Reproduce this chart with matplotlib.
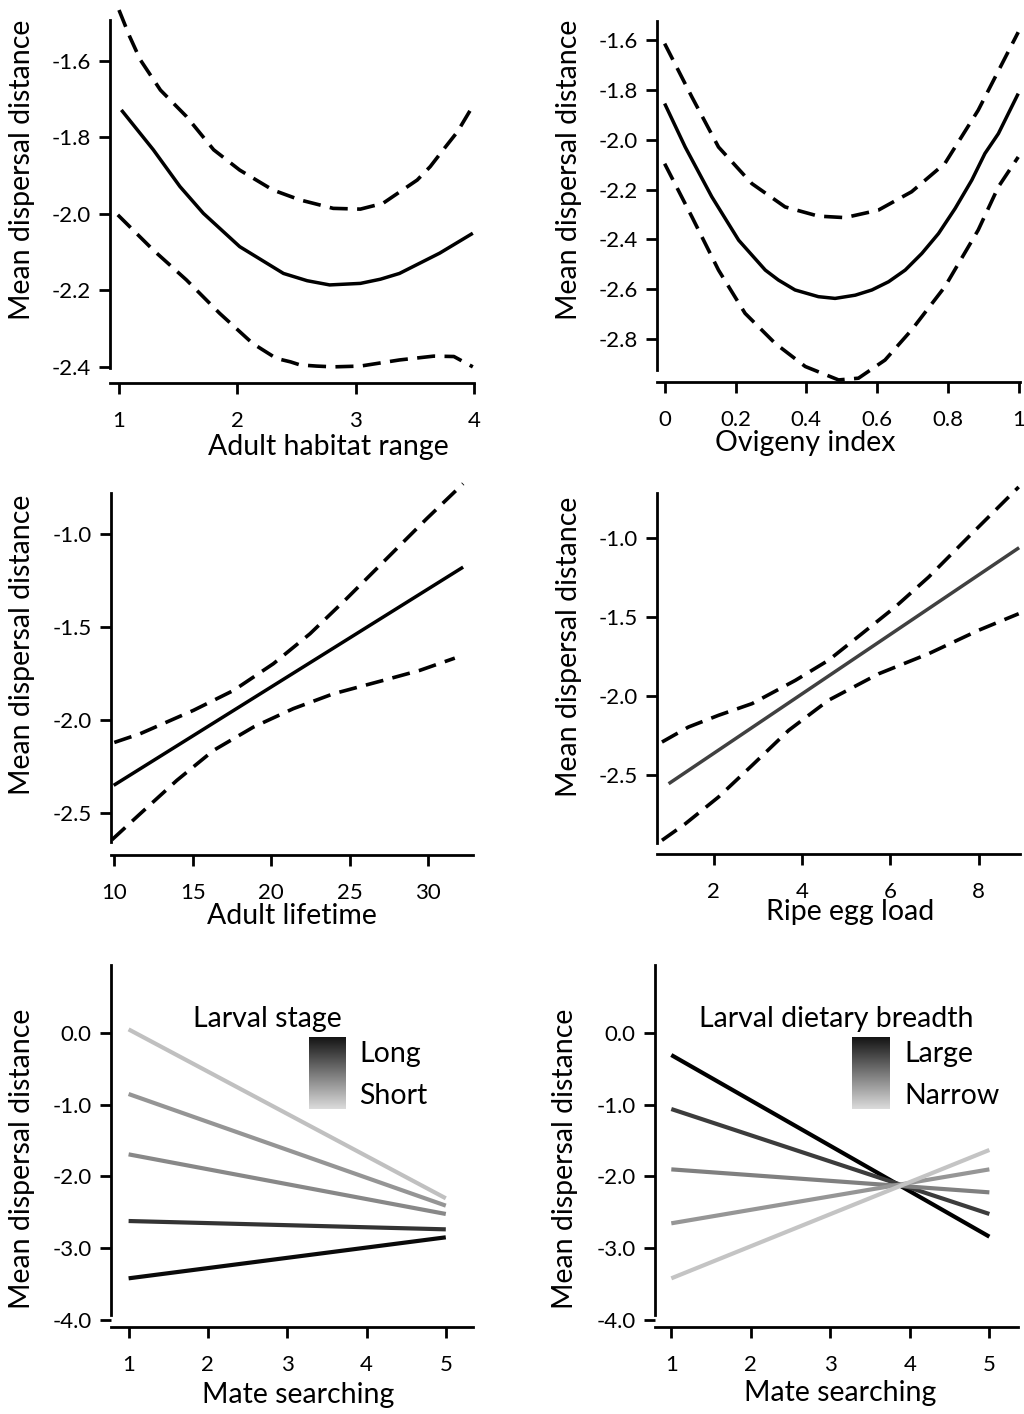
import numpy as np
import matplotlib
matplotlib.use("Agg")
import matplotlib.pyplot as plt

plt.rcParams['font.family'] = ['Lato', 'DejaVu Sans']

W, H = 1024, 1414
DPI = 100
LABEL_FS = 20.5
TICK_FS = 16

# ---- data ----
# panel 1: adult habitat range
hab_fit_x = [1.02, 1.29, 1.515, 1.713, 2.02, 2.39, 2.59, 2.78, 3.04, 3.21, 3.37, 3.71, 3.99]
hab_fit_y = [-1.729, -1.833, -1.929, -1.999, -2.086, -2.156, -2.175, -2.186, -2.182, -2.171, -2.156, -2.103, -2.051]
hab_up_x = [1.0, 1.09, 1.18, 1.35, 1.57, 1.80, 2.02, 2.30, 2.53, 2.81, 3.04, 3.23, 3.52, 3.63, 3.74, 3.86, 3.97]
hab_up_y = [-1.468, -1.537, -1.598, -1.677, -1.746, -1.833, -1.886, -1.938, -1.964, -1.986, -1.988, -1.973,
            -1.912, -1.877, -1.833, -1.786, -1.729]
hab_lo_x = [0.99, 1.29, 1.57, 1.85, 2.13, 2.33, 2.45, 2.53, 2.67, 2.81, 3.04, 3.37, 3.66, 3.83, 3.99]
hab_lo_y = [-2.003, -2.095, -2.173, -2.260, -2.339, -2.378, -2.387, -2.395, -2.398, -2.400, -2.398, -2.382,
            -2.372, -2.373, -2.400]

# panel 2: ovigeny index
ovi_fit_x = [0.0, 0.058, 0.133, 0.209, 0.284, 0.321, 0.368, 0.434, 0.481, 0.538, 0.585, 0.632, 0.679,
             0.726, 0.773, 0.820, 0.867, 0.904, 0.942, 0.998]
ovi_fit_y = [-1.854, -2.029, -2.229, -2.404, -2.524, -2.564, -2.604, -2.631, -2.638, -2.625, -2.604, -2.571,
             -2.524, -2.457, -2.377, -2.276, -2.162, -2.055, -1.975, -1.814]
ovi_up_x = [0.0, 0.077, 0.152, 0.246, 0.340, 0.434, 0.509, 0.603, 0.697, 0.791, 0.885, 0.998]
ovi_up_y = [-1.613, -1.828, -2.029, -2.176, -2.270, -2.307, -2.313, -2.283, -2.209, -2.095, -1.881, -1.567]
ovi_lo_x = [0.0, 0.077, 0.152, 0.227, 0.312, 0.397, 0.491, 0.547, 0.622, 0.697, 0.791, 0.885, 0.942, 0.998]
ovi_lo_y = [-2.096, -2.310, -2.524, -2.698, -2.819, -2.912, -2.966, -2.959, -2.886, -2.765, -2.591, -2.363,
            -2.189, -2.069]

# panel 3: adult lifetime
life_fit_x = [9.96, 32.23]
life_fit_y = [-2.351, -1.176]
life_up_x = [10.0, 11.65, 13.35, 15.05, 17.6, 20.14, 22.47, 24.8, 27.35, 29.9, 32.23]
life_up_y = [-2.12, -2.073, -2.010, -1.947, -1.840, -1.696, -1.535, -1.346, -1.131, -0.916, -0.727]
life_lo_x = [9.85, 11.65, 13.99, 16.32, 18.87, 21.41, 23.96, 27.14, 29.47, 31.7]
life_lo_y = [-2.644, -2.504, -2.324, -2.163, -2.037, -1.938, -1.858, -1.786, -1.732, -1.666]

# panel 4: ripe egg load
egg_fit_x = [0.98, 8.92]
egg_fit_y = [-2.553, -1.059]
egg_up_x = [0.83, 1.43, 2.11, 2.87, 3.85, 4.60, 5.36, 6.11, 6.87, 7.77, 8.91]
egg_up_y = [-2.289, -2.194, -2.120, -2.046, -1.899, -1.772, -1.603, -1.435, -1.245, -0.992, -0.675]
egg_lo_x = [0.83, 1.36, 2.11, 2.87, 3.70, 4.60, 5.74, 6.87, 8.0, 8.91]
egg_lo_y = [-2.911, -2.806, -2.637, -2.437, -2.215, -2.025, -1.857, -1.730, -1.582, -1.477]

# panels 5 and 6: mate searching, start (x=1) and end (x=5) of each line
mate_x = [1, 5]
stage_start = [0.046, -0.854, -1.694, -2.622, -3.42]
stage_end = [-2.306, -2.408, -2.524, -2.738, -2.849]
stage_colors = ['#c0c0c0', '#959595', '#888888', '#333333', '#0a0a0a']
diet_start = [-0.311, -1.063, -1.903, -2.654, -3.42]
diet_end = [-2.840, -2.524, -2.223, -1.903, -1.633]
diet_colors = ['#000000', '#3c3c3c', '#808080', '#969696', '#c4c4c4']

fig = plt.figure(figsize=(W / DPI, H / DPI), dpi=DPI)


def make_ax(left, right, top, data_bottom, spine_px, xlim, ylim, spine_low=None):
    # axes bottom sits on the x spine; the y spine is cut at the data range
    per_px = (ylim[1] - ylim[0]) / (data_bottom - top)
    low = ylim[0] - (spine_px - data_bottom) * per_px
    ax = fig.add_axes([left / W, 1 - spine_px / H, (right - left) / W, (spine_px - top) / H])
    ax.set_xlim(*xlim)
    ax.set_ylim(low, ylim[1])
    for s in ['top', 'right']:
        ax.spines[s].set_visible(False)
    for s in ['left', 'bottom']:
        ax.spines[s].set_linewidth(2)
    ax.spines['left'].set_bounds(ylim[0] if spine_low is None else spine_low, ylim[1])
    ax.tick_params(axis='both', direction='out', length=8, width=2, labelsize=TICK_FS)
    ax.tick_params(axis='x', pad=12)
    ax.tick_params(axis='y', pad=6)
    box = (left, right, top, spine_px)
    return ax, box


def labels(ax, box, xtext, xlx, xly, ylx, yly):
    left, right, top, bottom = box
    ax.set_xlabel(xtext, fontsize=LABEL_FS, va='center', ha='center')
    ax.xaxis.set_label_coords((xlx - left) / (right - left), (bottom - xly) / (bottom - top))
    ax.set_ylabel('Mean dispersal distance', fontsize=LABEL_FS, va='center', ha='center')
    ax.yaxis.set_label_coords((ylx - left) / (right - left), (bottom - yly) / (bottom - top))


def ci_plot(ax, fx, fy, ux, uy, lx, ly, fit_color='black'):
    ax.plot(fx, fy, color=fit_color, lw=2.5, clip_on=False, solid_capstyle='butt', solid_joinstyle='round')
    for xs, ys in [(ux, uy), (lx, ly)]:
        ax.plot(xs, ys, color='black', lw=2.6, dashes=(5.0, 2.6), clip_on=False,
                dash_capstyle='butt', dash_joinstyle='round')


def gradient_legend(title, title_px, bar_px, names, name_x):
    x0, x1, y0, y1 = bar_px
    bax = fig.add_axes([x0 / W, 1 - y1 / H, (x1 - x0) / W, (y1 - y0) / H])
    grad = np.linspace(0.08, 0.86, 256)[:, None]
    bax.imshow(grad, cmap='gray', vmin=0, vmax=1, aspect='auto', interpolation='bilinear')
    bax.set_axis_off()
    fig.text(title_px[0] / W, 1 - title_px[1] / H, title, fontsize=LABEL_FS, ha='left', va='center')
    fig.text(name_x / W, 1 - 1054 / H, names[0], fontsize=LABEL_FS, ha='left', va='center')
    fig.text(name_x / W, 1 - 1096 / H, names[1], fontsize=LABEL_FS, ha='left', va='center')


# ---- panel 1 ----
ax1, b1 = make_ax(110, 474, 20, 368, 383, (0.924, 4.0), (-2.403, -1.494))
ci_plot(ax1, hab_fit_x, hab_fit_y, hab_up_x, hab_up_y, hab_lo_x, hab_lo_y)
ax1.set_xticks([1, 2, 3, 4])
ax1.set_yticks([-2.4, -2.2, -2.0, -1.8, -1.6])
ax1.set_yticklabels(['-2.4', '-2.2', '-2.0', '-1.8', '-1.6'])
labels(ax1, b1, 'Adult habitat range', 328, 447, 22, 170)

# ---- panel 2 ----
ax2, b2 = make_ax(657, 1020, 21, 370, 382, (-0.0216, 1.003), (-2.926, -1.522))
ci_plot(ax2, ovi_fit_x, ovi_fit_y, ovi_up_x, ovi_up_y, ovi_lo_x, ovi_lo_y)
ax2.set_xticks([0, 0.2, 0.4, 0.6, 0.8, 1.0])
ax2.set_xticklabels(['0', '0.2', '0.4', '0.6', '0.8', '1'])
ax2.set_yticks([-2.8, -2.6, -2.4, -2.2, -2.0, -1.8, -1.6])
ax2.set_yticklabels(['-2.8', '-2.6', '-2.4', '-2.2', '-2.0', '-1.8', '-1.6'])
labels(ax2, b2, 'Ovigeny index', 805, 443, 569, 170)

# ---- panel 3 ----
ax3, b3 = make_ax(111, 473, 493, 842, 855, (9.79, 32.86), (-2.656, -0.777))
ci_plot(ax3, life_fit_x, life_fit_y, life_up_x, life_up_y, life_lo_x, life_lo_y)
ax3.set_xticks([10, 15, 20, 25, 30])
ax3.set_yticks([-2.5, -2.0, -1.5, -1.0])
ax3.set_yticklabels(['-2.5', '-2.0', '-1.5', '-1.0'])
labels(ax3, b3, 'Adult lifetime', 292, 916, 22, 645)

# ---- panel 4 ----
ax4, b4 = make_ax(657, 1020, 493, 843, 854, (0.717, 8.94), (-2.928, -0.713))
ci_plot(ax4, egg_fit_x, egg_fit_y, egg_up_x, egg_up_y, egg_lo_x, egg_lo_y, fit_color='#404040')
ax4.set_xticks([2, 4, 6, 8])
ax4.set_yticks([-2.5, -2.0, -1.5, -1.0])
ax4.set_yticklabels(['-2.5', '-2.0', '-1.5', '-1.0'])
labels(ax4, b4, 'Ripe egg load', 850, 912, 569, 647)

# ---- panel 5 ----
ax5, b5 = make_ax(111, 473, 965, 1320, 1327, (0.778, 5.343), (-4.0, 0.942), spine_low=-3.93)
for s, e, c in zip(stage_start, stage_end, stage_colors):
    ax5.plot(mate_x, [s, e], color=c, lw=3, solid_capstyle='butt')
ax5.set_xticks([1, 2, 3, 4, 5])
ax5.set_yticks([-4, -3, -2, -1, 0])
ax5.set_yticklabels(['-4.0', '-3.0', '-2.0', '-1.0', '0.0'])
labels(ax5, b5, 'Mate searching', 298, 1395, 22, 1159)
gradient_legend('Larval stage', (193, 1019), (309, 346, 1037, 1109), ['Long', 'Short'], 359)

# ---- panel 6 ----
ax6, b6 = make_ax(655, 1018, 965, 1320, 1327, (0.795, 5.36), (-4.0, 0.942), spine_low=-3.93)
for s, e, c in zip(diet_start, diet_end, diet_colors):
    ax6.plot(mate_x, [s, e], color=c, lw=3, solid_capstyle='butt')
ax6.set_xticks([1, 2, 3, 4, 5])
ax6.set_yticks([-4, -3, -2, -1, 0])
ax6.set_yticklabels(['-4.0', '-3.0', '-2.0', '-1.0', '0.0'])
labels(ax6, b6, 'Mate searching', 840, 1393, 565, 1159)
gradient_legend('Larval dietary breadth', (699, 1019), (852, 890, 1037, 1109), ['Large', 'Narrow'], 904)

fig.savefig('out.png', dpi=DPI)
